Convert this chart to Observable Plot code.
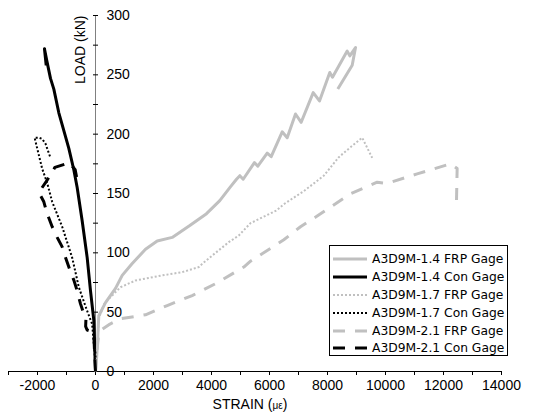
<!DOCTYPE html>
<html><head><meta charset="utf-8">
<script src="https://cdn.jsdelivr.net/npm/d3@7"></script>
<script src="https://cdn.jsdelivr.net/npm/@observablehq/plot@0.6"></script>
<style>
body{margin:0;background:#fff}
#wrap{position:relative;width:533px;height:419px;background:#fff}
#legbox{position:absolute;left:329px;top:245px;width:179px;height:111px;box-sizing:border-box;border:1px solid #000;background:#fff}
.leg{position:absolute;font-family:"DejaVu Sans",sans-serif;font-size:12.3px;white-space:nowrap;color:#000;line-height:18px;height:18px}
.leg svg{position:absolute;left:0;top:0}
.leg span{position:absolute;left:39px;top:0}
</style></head><body><div id="wrap"></div>
<script>
// ---- data ----
const seriesNames = ["A3D9M-1.4 FRP Gage","A3D9M-1.4 Con Gage","A3D9M-1.7 FRP Gage","A3D9M-1.7 Con Gage","A3D9M-2.1 FRP Gage","A3D9M-2.1 Con Gage"];
const frp14 = [[0,0],[40,12],[69,24],[114,47],[345,58],[690,70],[921,81],[1266,91],[1724,103],[2128,110],[2645,113],[3252,123],[3828,133],[4286,144],[4631,155],[4862,162],[4977,165],[5093,162],[5480,176],[5598,173],[5921,184],[6059,181],[6438,202],[6610,197],[6897,217],[7093,210],[7507,235],[7724,228],[8079,252],[8172,248],[8679,270],[8769,266],[8966,273],[8852,258],[8355,238]];
const con14 = [[0,0],[-20,15],[-57,43],[-172,68],[-287,96],[-460,127],[-632,155],[-748,170],[-920,188],[-1092,203],[-1265,218],[-1437,238],[-1552,247],[-1680,262],[-1760,272],[-1700,258]];
const frp17 = [[0,0],[69,24],[114,45],[300,57],[631,65.5],[862,71],[1379,76.7],[2300,81],[2990,83.7],[3562,88],[3679,90.7],[4024,97.7],[4597,109],[4941,114.6],[5345,125],[6241,135.7],[6493,141],[7183,152],[7872,165],[8390,180.6],[8793,189],[9197,197],[9541,180]];
const con17 = [[0,0],[-30,15],[-115,40],[-287,51],[-575,71],[-805,96],[-1149,122],[-1494,143],[-1667,159],[-1840,171],[-2010,188],[-2100,197],[-1950,197],[-1840,196],[-1724,192],[-1552,180]];
const frp21 = [[0,0],[69,22],[103,30],[172,34.5],[500,40],[862,44.4],[1724,47.8],[2472,55.6],[3334,64],[4138,74],[5114,88],[5345,93],[6494,111],[7069,122],[7644,131],[8793,149.7],[9713,159.5],[10057,158.5],[11092,166.5],[12241,175],[12471,171],[12448,144]];
const con21 = [[0,0],[-30,15],[-60,32],[-170,34],[-290,35],[-340,38],[-330,44],[-402,48.6],[-517,57],[-632,68],[-747,77],[-862,84],[-1034,96],[-1149,105],[-1321,113],[-1494,122],[-1667,133],[-1782,143],[-1954,151],[-1700,160],[-1400,172],[-900,176],[-700,170],[-600,157]];
const xTicks = [-3000,-2000,-1000,0,1000,2000,3000,4000,5000,6000,7000,8000,9000,10000,11000,12000,13000,14000];
const xLabels = [-2000,0,2000,4000,6000,8000,10000,12000,14000];
const yTicks = [0,25,50,75,100,125,150,175,200,225,250,275,300];
const yLabels = [0,50,100,150,200,250,300];

// ---- styles ----
const GRAY = "#c0c0c0";
const styles = [
  {stroke: GRAY, width: 3, dash: null},
  {stroke: "#000", width: 3, dash: null},
  {stroke: GRAY, width: 2, dash: "2,2"},
  {stroke: "#000", width: 2, dash: "2,2"},
  {stroke: GRAY, width: 3, dash: "12,10"},
  {stroke: "#000", width: 3, dash: "12,10"}
];
const seriesData = [frp14, con14, frp17, con17, frp21, con21];

const hTick = {draw(ctx, size){ const r = Math.sqrt(size/Math.PI); ctx.moveTo(-r,0); ctx.lineTo(r,0); }};

const lineMarks = seriesData.map((data, i) => Plot.line(data, {
  x: d => d[0], y: d => d[1],
  stroke: styles[i].stroke, strokeWidth: styles[i].width,
  strokeDasharray: styles[i].dash, strokeLinejoin: "round", strokeLinecap: "butt"
}));

const chart = Plot.plot({
  width: 533, height: 419,
  marginLeft: 8, marginRight: 32, marginTop: 15, marginBottom: 48,
  style: {fontFamily: "'Liberation Sans', Arial, sans-serif", fontSize: "14px", background: "#fff", color: "#000"},
  x: {domain: [-3000, 14000], label: null},
  y: {domain: [0, 300], label: null, axis: null},
  marks: [
    Plot.ruleY([0], {stroke: "#000", strokeWidth: 1}),
    Plot.axisX(xTicks, {anchor: "bottom", tickSize: 4, tickPadding: 5, tickFormat: d => xLabels.includes(d) ? String(d) : "", fontSize: 14, color: "#000", label: null}),
    Plot.ruleX([0], {stroke: "#808080", strokeWidth: 1}),
    Plot.dot(yTicks, {x: () => 0, y: d => d, symbol: hTick, r: 2.5, stroke: "#000", fill: "none", strokeWidth: 1}),
    Plot.text(yLabels, {x: () => 0, y: d => d, text: d => String(d), dx: 11, textAnchor: "start", fontSize: 14, fill: "#000"}),
    Plot.text(["LOAD (kN)"], {x: () => 0, y: () => 300, text: d => d, rotate: -90, textAnchor: "end", dx: -14.5, fontSize: 14, fill: "#000"}),
    ...lineMarks
  ]
});

const wrap = document.getElementById("wrap");
wrap.appendChild(chart);
// x axis title with smaller micro-strain symbol
const t = d3.select(chart).append("text").attr("x", 250).attr("y", 409).attr("text-anchor", "middle")
  .attr("font-size", 14).attr("fill", "#000");
t.append("tspan").text("STRAIN (");
t.append("tspan").attr("font-size", 10).text("με");
t.append("tspan").text(")");

// legend
const box = document.createElement("div"); box.id = "legbox"; wrap.appendChild(box);
seriesNames.forEach((name, i) => {
  const row = document.createElement("div");
  row.className = "leg";
  row.style.left = "333px";
  row.style.top = (259.3 + 17.8 * i - 9) + "px";
  const s = styles[i];
  row.innerHTML = `<svg width="36" height="18"><line x1="0" x2="34" y1="9" y2="9" stroke="${s.stroke}" stroke-width="${s.width}" ${s.dash ? `stroke-dasharray="${s.dash}"` : ""}/></svg><span>${name}</span>`;
  wrap.appendChild(row);
});
</script></body></html>
